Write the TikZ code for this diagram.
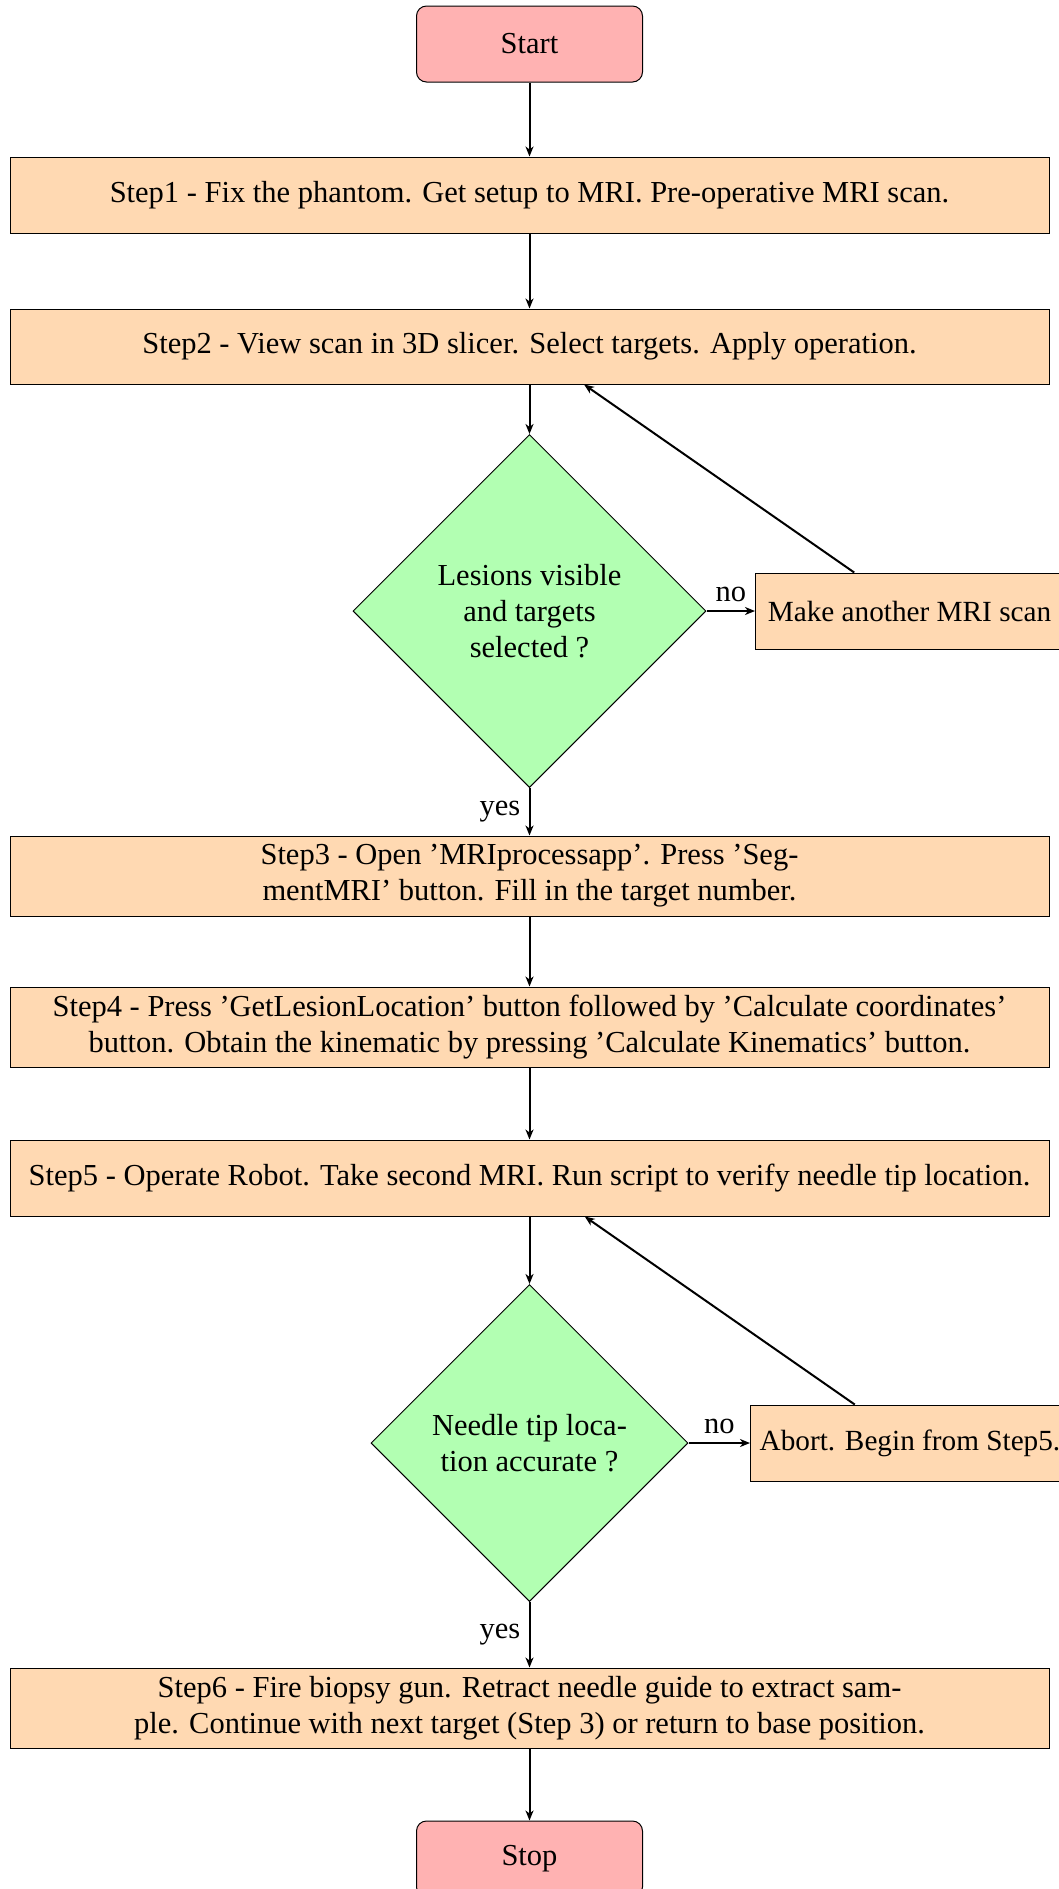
\documentclass[tikz,border=0pt]{standalone}
\usepackage{fontspec}
\setmainfont{Liberation Serif}
\usetikzlibrary{shapes.geometric,arrows.meta}
\newdimen\pxu \pxu=0.4pt
\begin{document}
\begin{tikzpicture}[x=0.4pt,y=-0.4pt,
  font=\fontsize{12.2}{14.4}\selectfont,
  term/.style={draw, thin, fill=red!30, rounded corners=4pt,
    minimum width=226\pxu, minimum height=76\pxu, inner sep=0pt},
  stepbox/.style={draw, thin, fill=orange!30, minimum width=1039\pxu,
    align=center, inner sep=0pt},
  decide/.style={diamond, draw, thin, fill=green!30, shape aspect=1,
    inner sep=0pt, align=center},
  side/.style={draw, thin, fill=orange!30, minimum height=76\pxu,
    inner xsep=3.4pt, inner ysep=0pt, anchor=west,
    font=\fontsize{11.7}{14.4}\selectfont},
  flow/.style={thick, -{Stealth[length=4pt,width=3.2pt,inset=1.2pt]}}]
\useasboundingbox (0,0) rectangle (1059,1889);
\clip (0,0) rectangle (1059,1889);

% main column
\node[term] (start) at (529.5,44) {Start};
\node[stepbox, minimum height=76\pxu] (s1) at (529.5,195)
  {Step1 - Fix the phantom. Get setup to MRI. Pre-operative MRI scan.};
\node[stepbox, minimum height=75\pxu] (s2) at (529.5,346.5)
  {Step2 - View scan in 3D slicer. Select targets. Apply operation.};
\node[decide, minimum width=353\pxu, minimum height=353\pxu] (d1) at (529.5,611)
  {Lesions visible\\and targets\\selected ?};
\node[side, minimum width=308\pxu] (mk) at (755,611) {Make another MRI scan};
\node[stepbox, minimum height=80\pxu] (s3) at (529.5,876)
  {Step3 - Open 'MRIprocessapp'. Press 'Seg-\\mentMRI' button. Fill in the target number.};
\node[stepbox, minimum height=80\pxu] (s4) at (529.5,1027)
  {Step4 - Press 'GetLesionLocation' button followed by 'Calculate coordinates'\\button. Obtain the kinematic by pressing 'Calculate Kinematics' button.};
\node[stepbox, minimum height=76\pxu] (s5) at (529.5,1178)
  {Step5 - Operate Robot. Take second MRI. Run script to verify needle tip location.};
\node[decide, minimum width=317\pxu, minimum height=317\pxu] (d2) at (529.5,1443)
  {Needle tip loca-\\tion accurate ?};
\node[side, minimum width=319\pxu] (ab) at (750,1443) {Abort. Begin from Step5.};
\node[stepbox, minimum height=80\pxu] (s6) at (529.5,1708)
  {Step6 - Fire biopsy gun. Retract needle guide to extract sam-\\ple. Continue with next target (Step 3) or return to base position.};
\node[term] (stop) at (529.5,1859) {Stop};

% connectors
\draw[flow] (start) -- (s1);
\draw[flow] (s1) -- (s2);
\draw[flow] (s2) -- (d1);
\draw[flow] (d1) -- node[above] {no} (mk);
\draw[flow] (mk) -- (s2);
\draw[flow] (d1) -- node[left] {yes} (s3);
\draw[flow] (s3) -- (s4);
\draw[flow] (s4) -- (s5);
\draw[flow] (s5) -- (d2);
\draw[flow] (d2) -- node[above] {no} (ab);
\draw[flow] (ab) -- (s5);
\draw[flow] (d2) -- node[left] {yes} (s6);
\draw[flow] (s6) -- (stop);
\end{tikzpicture}
\end{document}
